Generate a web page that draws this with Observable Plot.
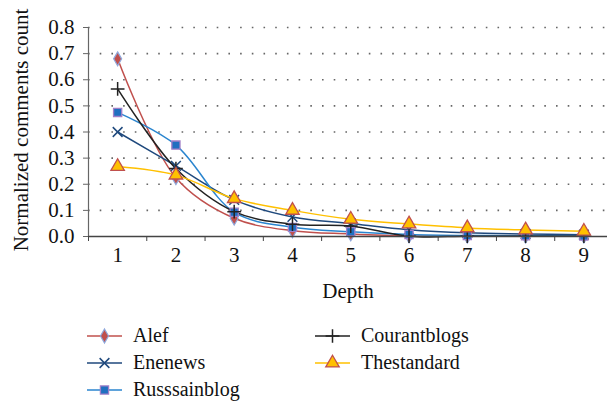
<!DOCTYPE html>
<html><head><meta charset="utf-8">
<script src="https://cdn.jsdelivr.net/npm/d3@7"></script>
<script src="https://cdn.jsdelivr.net/npm/@observablehq/plot@0.6"></script>
</head><body style="margin:0;background:#fff;color:#111">
<div id="chart"></div>
<div id="legend" style="position:relative;height:100px;width:607px"></div>
<script>
const depth = [1, 2, 3, 4, 5, 6, 7, 8, 9];
const seriesNames = ["Alef", "Enenews", "Russsainblog", "Courantblogs", "Thestandard"];
const alef = [0.68, 0.225, 0.07, 0.022, 0.01, 0.002, 0.001, 0.001, 0.001];
const enenews = [0.40, 0.27, 0.14, 0.075, 0.05, 0.026, 0.014, 0.01, 0.007];
const russsainblog = [0.475, 0.35, 0.093, 0.035, 0.018, 0.008, 0.004, 0.003, 0.002];
const courantblogs = [0.565, 0.26, 0.095, 0.047, 0.04, 0.001, 0.001, 0.001, 0.001];
const thestandard = [0.268, 0.235, 0.145, 0.1, 0.066, 0.048, 0.033, 0.025, 0.02];
const yTicks = [0, 0.1, 0.2, 0.3, 0.4, 0.5, 0.6, 0.7, 0.8];

const FONT = "'Liberation Serif'";
const values = [alef, enenews, russsainblog, courantblogs, thestandard];
const styles = [
  {line: "#c0504d", symbol: "diamond", d3s: d3.symbolDiamond, fill: "#c0504d", stroke: "#8fa8dc", r: 4.2, sw: 1.2},
  {line: "#1f497d", symbol: "times", d3s: d3.symbolTimes, fill: "none", stroke: "#1f497d", r: 4.5, sw: 1.5},
  {line: "#2a85cf", symbol: "square", d3s: d3.symbolSquare, fill: "#1f6fc0", stroke: "#a07fc8", r: 4.6, sw: 1.3},
  {line: "#222222", symbol: "plus", d3s: d3.symbolPlus, fill: "none", stroke: "#222222", r: 4.5, sw: 1.5},
  {line: "#ffc000", symbol: "triangle", d3s: d3.symbolTriangle, fill: "#ffc000", stroke: "#c0504d", r: 5, sw: 1.3}
];

const rows = seriesNames.map((name, s) => depth.map((d, i) => ({name, depth: d, value: values[s][i]})));
const bounds = d3.range(0.5, 10, 1);

const marks = [
  Plot.ruleY(yTicks.filter(v => v > 0), {stroke: "#666", strokeDasharray: "1.6 10.1", strokeWidth: 1.6}),
  Plot.ruleX([0.5], {y1: 0, y2: 0.8, stroke: "#666", strokeWidth: 1.2}),
  Plot.axisY({ticks: yTicks, tickSize: 5, tickPadding: 9, label: null, fontSize: 21, stroke: "#666"}),
  Plot.axisX({ticks: bounds, tickSize: 5, tickFormat: () => "", label: null, stroke: "#444"}),
  Plot.axisX({ticks: depth, tickSize: 0, tickPadding: 11, label: null, fontSize: 21}),
  Plot.text(["Normalized comments count"], {frameAnchor: "left", rotate: -90, dx: -67, dy: -2, textAnchor: "middle", lineAnchor: "middle", fontSize: 21}),
  Plot.text(["Depth"], {frameAnchor: "bottom", dy: 55, textAnchor: "middle", lineAnchor: "middle", fontSize: 21})
];
rows.forEach((r, s) => {
  marks.push(Plot.line(r, {x: "depth", y: "value", stroke: styles[s].line, strokeWidth: 1.5, curve: "catmull-rom"}));
});
rows.forEach((r, s) => {
  const st = styles[s];
  marks.push(Plot.dot(r, {x: "depth", y: "value", symbol: st.symbol, r: st.r, fill: st.fill, stroke: st.stroke, strokeWidth: st.sw}));
});
marks.push(Plot.ruleY([0], {stroke: "#444", strokeWidth: 1.5}));

const chart = Plot.plot({
  width: 607, height: 305,
  marginLeft: 88, marginTop: 27, marginBottom: 69, marginRight: 0,
  style: {fontFamily: FONT, fontSize: "21px", color: "#111", background: "white", overflow: "visible"},
  x: {type: "linear", domain: [0.5, 9.5], range: [88, 612.5]},
  y: {domain: [0, 0.8]},
  marks
});
document.getElementById("chart").appendChild(chart);

// legend
const legendPos = [[87, 30], [87, 57], [87, 84], [315, 30], [315, 57]];
const legend = document.getElementById("legend");
seriesNames.forEach((name, s) => {
  const st = styles[s];
  const div = document.createElement("div");
  div.style.cssText = `position:absolute;display:flex;align-items:center;white-space:nowrap;font-size:20px;font-family:${FONT};left:${legendPos[s][0]}px;top:${legendPos[s][1] - 11}px`;
  const size = Math.PI * st.r * st.r;
  const path = d3.symbol(st.d3s, size)();
  div.innerHTML = `<svg width="35" height="22" style="margin-right:11px"><line x1="0" x2="35" y1="11" y2="11" stroke="${st.line}" stroke-width="1.5"/>` +
    `<path transform="translate(17.5,11)" d="${path}" fill="${st.fill}" stroke="${st.stroke}" stroke-width="${st.sw}"/></svg><span>${name}</span>`;
  legend.appendChild(div);
});
</script>
</body></html>
